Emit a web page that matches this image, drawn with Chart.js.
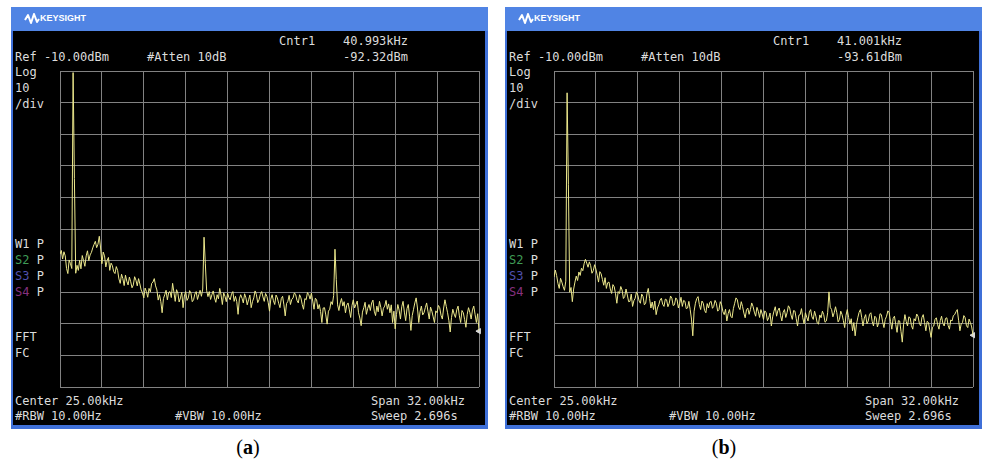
<!DOCTYPE html>
<html>
<head>
<meta charset="utf-8">
<title>Spectrum (a) / (b)</title>
<script src="https://cdn.jsdelivr.net/npm/chart.js@4.4.0/dist/chart.umd.min.js"></script>
<style>
  html, body { margin: 0; padding: 0; background: #fff; }
  body { width: 982px; height: 463px; position: relative; overflow: hidden; }
  .panel { position: absolute; top: 7px; width: 477px; height: 422px; background: #3f70d8; }
  .head { position: absolute; left: 0; top: 0; width: 100%; height: 24px; background: #5084e4; }
  .brand { position: absolute; left: 29px; top: 6px; font: bold 9px "Liberation Sans", Arial, sans-serif; color: #fff; }
  .logo { position: absolute; left: 13px; top: 6px; }
  .screen { position: absolute; left: 2px; top: 24px; width: 472px; height: 394px; background: #000; }
  .t { position: absolute; font: 12px "DejaVu Sans Mono", monospace; color: #dcdcdc; line-height: 16px; white-space: pre; }
  .plot { position: absolute; left: 44px; top: 59px; }
  .cap { position: absolute; top: 435px; width: 100px; text-align: center; font: 20px "Liberation Serif", serif; color: #000; line-height: 24px; }
  .s2 { color: #3f9b55; } .s3 { color: #5050b0; } .s4 { color: #87307f; }
</style>
</head>
<body>

<div class="panel" style="left:11px">
  <div class="head">
    <svg class="logo" width="16" height="12"><polyline points="1,7 4,2 7,10 10,1 13,9 15,6" fill="none" stroke="#fff" stroke-width="2" stroke-linejoin="round"/></svg>
    <div class="brand">KEYSIGHT</div>
  </div>
  <div class="screen"></div>
  <div class="t" style="left:268px;top:26px">Cntr1</div>
  <div class="t" style="left:332px;top:26px">40.993kHz</div>
  <div class="t" style="left:4px;top:42px">Ref -10.00dBm</div>
  <div class="t" style="left:136px;top:42px">#Atten 10dB</div>
  <div class="t" style="left:332px;top:42px">-92.32dBm</div>
  <div class="t" style="left:4px;top:57px">Log</div>
  <div class="t" style="left:4px;top:73px">10</div>
  <div class="t" style="left:4px;top:89px">/div</div>
  <div class="t" style="left:4px;top:229px">W1 P</div>
  <div class="t" style="left:4px;top:245px"><span class="s2">S2</span> P</div>
  <div class="t" style="left:4px;top:261px"><span class="s3">S3</span> P</div>
  <div class="t" style="left:4px;top:277px"><span class="s4">S4</span> P</div>
  <div class="t" style="left:4px;top:322px">FFT</div>
  <div class="t" style="left:4px;top:338px">FC</div>
  <div class="t" style="left:4px;top:386px">Center 25.00kHz</div>
  <div class="t" style="left:360px;top:386px">Span 32.00kHz</div>
  <div class="t" style="left:4px;top:401px">#RBW 10.00Hz</div>
  <div class="t" style="left:164px;top:401px">#VBW 10.00Hz</div>
  <div class="t" style="left:360px;top:401px">Sweep 2.696s</div>
  <div class="plot"><canvas id="chartA" width="429" height="326"></canvas></div>
</div>

<div class="panel" style="left:505px">
  <div class="head">
    <svg class="logo" width="16" height="12"><polyline points="1,7 4,2 7,10 10,1 13,9 15,6" fill="none" stroke="#fff" stroke-width="2" stroke-linejoin="round"/></svg>
    <div class="brand">KEYSIGHT</div>
  </div>
  <div class="screen"></div>
  <div class="t" style="left:268px;top:26px">Cntr1</div>
  <div class="t" style="left:332px;top:26px">41.001kHz</div>
  <div class="t" style="left:4px;top:42px">Ref -10.00dBm</div>
  <div class="t" style="left:136px;top:42px">#Atten 10dB</div>
  <div class="t" style="left:332px;top:42px">-93.61dBm</div>
  <div class="t" style="left:4px;top:57px">Log</div>
  <div class="t" style="left:4px;top:73px">10</div>
  <div class="t" style="left:4px;top:89px">/div</div>
  <div class="t" style="left:4px;top:229px">W1 P</div>
  <div class="t" style="left:4px;top:245px"><span class="s2">S2</span> P</div>
  <div class="t" style="left:4px;top:261px"><span class="s3">S3</span> P</div>
  <div class="t" style="left:4px;top:277px"><span class="s4">S4</span> P</div>
  <div class="t" style="left:4px;top:322px">FFT</div>
  <div class="t" style="left:4px;top:338px">FC</div>
  <div class="t" style="left:4px;top:386px">Center 25.00kHz</div>
  <div class="t" style="left:360px;top:386px">Span 32.00kHz</div>
  <div class="t" style="left:4px;top:401px">#RBW 10.00Hz</div>
  <div class="t" style="left:164px;top:401px">#VBW 10.00Hz</div>
  <div class="t" style="left:360px;top:401px">Sweep 2.696s</div>
  <div class="plot"><canvas id="chartB" width="429" height="326"></canvas></div>
</div>

<div class="cap" style="left:198px">(<b>a</b>)</div>
<div class="cap" style="left:674px">(<b>b</b>)</div>

<script>
// sweep: 9 kHz .. 41 kHz (center 25 kHz, span 32 kHz), one reading every 0.1 kHz
const sweepStart = 9;
const sweepStep = 0.1;

// vertical / horizontal graticule (10 divisions each)
const freqDivisions = [9, 12.2, 15.4, 18.6, 21.8, 25, 28.2, 31.4, 34.6, 37.8, 41];
const levelDivisions = [-110, -100, -90, -80, -70, -60, -50, -40, -30, -20, -10];

// trace (a), dBm, one row per kHz
const traceA = [
  -68.0, -66.8, -69.5, -67.2, -68.5, -72.5, -74.1, -69.8, -71.0, -72.5,
  -10.5, -44.0, -74.0, -71.5, -73.1, -69.9, -72.6, -68.4, -70.0, -71.8,
  -68.5, -66.9, -70.0, -68.2, -67.4, -66.0, -64.9, -63.9, -65.9, -64.8,
  -62.3, -66.0, -71.0, -67.3, -68.5, -72.0, -70.0, -69.0, -73.1, -70.8,
  -71.6, -73.5, -74.1, -71.9, -73.1, -75.8, -77.2, -74.3, -75.7, -77.9,
  -74.6, -76.5, -77.7, -75.2, -76.7, -78.6, -77.7, -75.1, -76.2, -78.0,
  -75.7, -77.4, -79.3, -80.2, -81.8, -78.7, -79.8, -81.6, -78.8, -79.9,
  -77.2, -76.8, -75.7, -78.0, -79.3, -82.5, -80.8, -83.0, -86.5, -82.0,
  -80.8, -79.4, -82.4, -80.1, -79.8, -81.7, -77.2, -80.0, -82.9, -79.2,
  -80.3, -83.1, -81.8, -80.0, -84.9, -81.2, -79.8, -82.6, -81.8, -79.5,
  -80.3, -83.0, -82.4, -80.6, -79.8, -82.3, -80.8, -79.4, -81.3, -79.0,
  -62.6, -71.0, -79.5, -81.4, -79.8, -82.3, -80.8, -79.6, -81.8, -83.2,
  -80.8, -82.1, -78.8, -80.9, -83.9, -80.2, -81.3, -83.0, -80.3, -81.7,
  -82.4, -80.6, -79.8, -82.9, -81.3, -83.0, -87.0, -82.1, -80.8, -81.9,
  -83.4, -80.5, -81.8, -84.0, -82.4, -80.9, -84.9, -83.0, -81.8, -79.6,
  -80.8, -83.3, -82.4, -80.7, -79.8, -81.5, -82.9, -80.4, -81.3, -83.2,
  -86.0, -82.2, -80.8, -82.7, -83.9, -80.9, -81.8, -83.5, -84.9, -82.0,
  -81.3, -84.0, -87.5, -83.6, -82.9, -81.0, -83.9, -82.3, -81.8, -80.2,
  -80.8, -82.6, -83.4, -80.8, -81.8, -83.9, -85.4, -82.0, -82.4, -80.1,
  -80.8, -82.2, -80.3, -82.8, -85.4, -81.9, -82.4, -85.3, -83.9, -86.1,
  -89.6, -85.0, -84.9, -87.2, -90.1, -86.0, -85.4, -83.0, -83.9, -81.0,
  -66.4, -76.0, -84.0, -85.8, -83.4, -82.0, -84.4, -83.0, -86.5, -84.1,
  -83.4, -85.6, -88.0, -84.2, -82.4, -85.0, -83.9, -82.8, -86.5, -88.2,
  -90.6, -86.3, -84.9, -83.2, -87.0, -85.1, -83.9, -85.8, -83.4, -82.5,
  -86.0, -87.4, -84.4, -86.2, -82.9, -84.8, -87.5, -85.1, -84.4, -82.6,
  -85.4, -83.7, -86.5, -84.0, -89.6, -86.0, -91.6, -87.0, -83.9, -85.7,
  -88.5, -84.6, -82.9, -86.3, -89.0, -85.2, -83.9, -87.8, -92.1, -87.4,
  -85.4, -83.4, -81.8, -85.0, -89.6, -86.1, -84.4, -87.2, -86.5, -84.9,
  -83.4, -86.0, -88.5, -84.7, -86.0, -87.8, -89.6, -85.9, -86.5, -84.2,
  -84.9, -87.3, -88.5, -85.0, -82.4, -84.5, -86.5, -89.0, -92.6, -88.0,
  -85.4, -86.9, -88.0, -85.6, -84.4, -87.5, -89.6, -85.8, -86.5, -88.6,
  -91.1, -87.0, -84.9, -86.4, -88.5, -85.6, -84.4, -87.0, -89.6, -86.8,
  -92.3
];

// trace (b), dBm, one row per kHz
const traceB = [
  -75.2, -73.0, -74.7, -77.2, -78.8, -75.6, -76.8, -78.3, -79.4, -76.5,
  -16.9, -46.0, -80.0, -78.5, -83.0, -79.0, -76.8, -74.9, -76.3, -73.6,
  -74.7, -72.4, -73.2, -71.0, -69.6, -70.8, -72.1, -70.4, -71.6, -74.0,
  -73.2, -71.3, -72.7, -74.6, -76.8, -73.5, -74.2, -76.0, -77.8, -75.4,
  -78.8, -77.0, -76.8, -79.0, -80.4, -77.6, -78.3, -80.5, -83.5, -79.8,
  -80.4, -78.2, -79.3, -82.0, -81.4, -79.0, -80.9, -83.0, -82.9, -80.6,
  -84.5, -82.7, -81.9, -79.9, -80.9, -82.8, -83.5, -80.6, -81.4, -84.0,
  -83.5, -80.5, -78.8, -82.0, -85.0, -83.1, -85.5, -82.8, -87.1, -85.0,
  -84.0, -82.5, -81.9, -83.8, -84.5, -82.2, -82.4, -84.6, -83.5, -81.2,
  -81.9, -84.2, -84.0, -81.8, -82.4, -85.0, -83.5, -81.6, -84.5, -82.6,
  -82.9, -85.2, -85.0, -82.9, -85.5, -88.5, -93.8, -86.0, -83.5, -82.0,
  -81.4, -83.9, -85.5, -82.8, -83.5, -85.8, -86.5, -83.6, -85.0, -83.2,
  -82.9, -85.1, -84.5, -82.6, -83.5, -86.0, -85.5, -83.0, -84.0, -86.2,
  -87.1, -85.4, -89.1, -86.8, -85.5, -87.6, -88.1, -85.2, -83.5, -81.8,
  -82.4, -84.7, -85.5, -83.0, -84.5, -86.6, -88.1, -85.6, -85.0, -87.0,
  -85.5, -83.4, -84.5, -86.3, -87.6, -84.8, -86.0, -88.0, -85.5, -86.9,
  -88.6, -85.9, -86.5, -89.0, -88.1, -86.6, -90.7, -87.8, -86.0, -84.6,
  -87.6, -85.8, -85.0, -87.3, -89.1, -86.4, -85.5, -88.0, -86.5, -84.3,
  -85.0, -87.2, -88.6, -85.8, -86.0, -88.4, -90.7, -87.3, -87.1, -85.2,
  -88.1, -90.0, -86.5, -87.9, -89.1, -86.3, -85.5, -87.8, -88.6, -86.0,
  -87.6, -89.7, -90.1, -87.2, -88.1, -86.0, -87.1, -89.5, -89.1, -86.5,
  -79.9, -84.8, -85.5, -87.8, -86.5, -84.6, -86.5, -89.4, -88.6, -86.0,
  -87.1, -89.0, -91.2, -87.3, -85.5, -88.0, -90.1, -88.4, -92.2, -89.6,
  -93.8, -90.2, -88.1, -86.4, -85.5, -88.0, -90.7, -88.2, -87.1, -90.0,
  -89.1, -87.0, -86.5, -89.2, -90.7, -87.6, -88.1, -91.0, -89.6, -86.8,
  -87.1, -89.4, -91.2, -88.6, -87.6, -85.9, -86.5, -89.3, -91.7, -88.3,
  -87.6, -90.2, -92.7, -89.0, -89.1, -92.4, -95.8, -90.1, -87.1, -89.3,
  -90.7, -87.8, -88.1, -90.6, -91.7, -88.4, -89.1, -86.9, -87.6, -89.8,
  -90.7, -88.0, -87.1, -89.6, -92.2, -89.2, -89.6, -92.0, -94.3, -91.1,
  -90.7, -88.6, -88.1, -90.3, -91.7, -89.0, -87.6, -89.9, -90.7, -88.3,
  -88.1, -90.5, -91.7, -88.8, -89.1, -87.4, -87.1, -86.2, -85.5, -88.9,
  -92.2, -90.0, -89.6, -87.4, -88.1, -90.6, -91.2, -88.5, -89.6, -91.0,
  -93.6
];

// marker readouts [kHz, dBm]
const markerA = [40.993, -92.32];
const markerB = [41.001, -93.61];

function drawTrace(canvas, trace, marker) {
  new Chart(canvas, {
    type: 'line',
    data: {
      datasets: [{
        data: trace.map((v, i) => ({ x: sweepStart + i * sweepStep, y: v })),
        borderColor: '#ece88c',
        borderWidth: 1,
        pointRadius: 0,
        tension: 0
      }, {
        data: [{ x: marker[0], y: marker[1] }],
        showLine: false,
        clip: false,
        pointStyle: 'triangle',
        rotation: -90,
        pointRadius: 3,
        backgroundColor: '#d8d8d8',
        borderColor: '#d8d8d8',
        borderWidth: 1
      }]
    },
    options: {
      responsive: false,
      animation: false,
      events: [],
      layout: { padding: 1 },
      plugins: {
        legend: { display: false },
        tooltip: { enabled: false }
      },
      scales: {
        x: {
          type: 'linear',
          min: sweepStart,
          max: 41,
          afterBuildTicks: axis => { axis.ticks = freqDivisions.map(v => ({ value: v })); },
          ticks: { display: false },
          grid: { color: '#828282', lineWidth: 1, drawTicks: false },
          border: { display: false }
        },
        y: {
          type: 'linear',
          min: -110,
          max: -10,
          afterBuildTicks: axis => { axis.ticks = levelDivisions.map(v => ({ value: v })); },
          ticks: { display: false },
          grid: { color: '#828282', lineWidth: 1, drawTicks: false },
          border: { display: false }
        }
      }
    }
  });
}

drawTrace(document.getElementById('chartA'), traceA, markerA);
drawTrace(document.getElementById('chartB'), traceB, markerB);
</script>
</body>
</html>
